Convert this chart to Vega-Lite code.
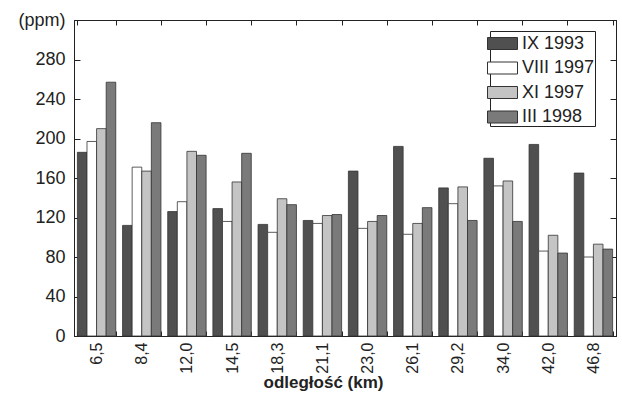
{
  "$schema": "https://vega.github.io/schema/vega-lite/v6.json",
  "width": 542,
  "height": 316,
  "autosize": {"type": "none"},
  "padding": {"left": 74, "top": 20, "right": 6, "bottom": 65},
  "background": "white",
  "config": {
    "view": {"stroke": "#222", "strokeWidth": 1},
    "font": "Liberation Sans",
    "axis": {"labelColor": "#222", "titleColor": "#222", "domainColor": "#222", "tickColor": "#222", "grid": false}
  },
  "data": {
    "values": [
      {"d": "6,5", "s": "IX 1993", "v": 186}, {"d": "6,5", "s": "VIII 1997", "v": 197}, {"d": "6,5", "s": "XI 1997", "v": 210}, {"d": "6,5", "s": "III 1998", "v": 257},
      {"d": "8,4", "s": "IX 1993", "v": 112}, {"d": "8,4", "s": "VIII 1997", "v": 171}, {"d": "8,4", "s": "XI 1997", "v": 167}, {"d": "8,4", "s": "III 1998", "v": 216},
      {"d": "12,0", "s": "IX 1993", "v": 126}, {"d": "12,0", "s": "VIII 1997", "v": 136}, {"d": "12,0", "s": "XI 1997", "v": 187}, {"d": "12,0", "s": "III 1998", "v": 183},
      {"d": "14,5", "s": "IX 1993", "v": 129}, {"d": "14,5", "s": "VIII 1997", "v": 116}, {"d": "14,5", "s": "XI 1997", "v": 156}, {"d": "14,5", "s": "III 1998", "v": 185},
      {"d": "18,3", "s": "IX 1993", "v": 113}, {"d": "18,3", "s": "VIII 1997", "v": 105}, {"d": "18,3", "s": "XI 1997", "v": 139}, {"d": "18,3", "s": "III 1998", "v": 133},
      {"d": "21,1", "s": "IX 1993", "v": 117}, {"d": "21,1", "s": "VIII 1997", "v": 114}, {"d": "21,1", "s": "XI 1997", "v": 122}, {"d": "21,1", "s": "III 1998", "v": 123},
      {"d": "23,0", "s": "IX 1993", "v": 167}, {"d": "23,0", "s": "VIII 1997", "v": 109}, {"d": "23,0", "s": "XI 1997", "v": 116}, {"d": "23,0", "s": "III 1998", "v": 122},
      {"d": "26,1", "s": "IX 1993", "v": 192}, {"d": "26,1", "s": "VIII 1997", "v": 103}, {"d": "26,1", "s": "XI 1997", "v": 114}, {"d": "26,1", "s": "III 1998", "v": 130},
      {"d": "29,2", "s": "IX 1993", "v": 150}, {"d": "29,2", "s": "VIII 1997", "v": 134}, {"d": "29,2", "s": "XI 1997", "v": 151}, {"d": "29,2", "s": "III 1998", "v": 117},
      {"d": "34,0", "s": "IX 1993", "v": 180}, {"d": "34,0", "s": "VIII 1997", "v": 152}, {"d": "34,0", "s": "XI 1997", "v": 157}, {"d": "34,0", "s": "III 1998", "v": 116},
      {"d": "42,0", "s": "IX 1993", "v": 194}, {"d": "42,0", "s": "VIII 1997", "v": 86}, {"d": "42,0", "s": "XI 1997", "v": 102}, {"d": "42,0", "s": "III 1998", "v": 84},
      {"d": "46,8", "s": "IX 1993", "v": 165}, {"d": "46,8", "s": "VIII 1997", "v": 80}, {"d": "46,8", "s": "XI 1997", "v": 93}, {"d": "46,8", "s": "III 1998", "v": 88}
    ]
  },
  "layer": [
    {
      "mark": {"type": "bar", "stroke": "#333", "strokeWidth": 0.8},
      "encoding": {
        "x": {
          "field": "d", "type": "nominal", "sort": null,
          "scale": {"paddingInner": 0.15, "paddingOuter": 0.075},
          "axis": {
            "orient": "bottom", "labelAngle": 270, "labelFontSize": 16, "tickBand": "extent",
            "tickSize": -5, "labelPadding": 11,
            "title": "odległość (km)", "titleFontSize": 17, "titleFontWeight": "bold",
            "titleX": 249, "titleY": 51, "titleBaseline": "alphabetic", "titleAlign": "center"
          }
        },
        "xOffset": {
          "field": "s", "type": "nominal",
          "sort": ["IX 1993", "VIII 1997", "XI 1997", "III 1998"],
          "scale": {"paddingInner": 0, "paddingOuter": 0}
        },
        "y": {
          "field": "v", "type": "quantitative",
          "scale": {"domain": [0, 320], "nice": false},
          "axis": {
            "orient": "left", "values": [0, 40, 80, 120, 160, 200, 240, 280, 320],
            "labelExpr": "datum.value == 320 ? '(ppm)' : datum.label",
            "labelFontSize": 18, "tickSize": -6, "labelPadding": 15, "title": null
          }
        },
        "color": {
          "field": "s", "type": "nominal",
          "scale": {"domain": ["IX 1993", "VIII 1997", "XI 1997", "III 1998"], "range": ["#505050", "#ffffff", "#c4c4c4", "#7a7a7a"]},
          "legend": {
            "orient": "none", "legendX": 416, "legendY": 11, "title": null,
            "strokeColor": "#222", "padding": {"left": 14, "right": 5, "top": 12, "bottom": 10}, "labelFontSize": 18, "labelColor": "#222",
            "symbolType": "M-1.25,-0.5H1.25V0.5H-1.25Z", "symbolSize": 576,
            "symbolStrokeColor": "#333", "symbolStrokeWidth": 1, "symbolOpacity": 1,
            "rowPadding": 2.5, "labelOffset": 7
          }
        }
      }
    },
    {
      "mark": {"type": "point", "opacity": 0},
      "encoding": {
        "x": {
          "field": "d", "type": "nominal", "sort": null,
          "axis": {"orient": "top", "labels": false, "tickBand": "extent", "tickSize": -5, "title": null}
        },
        "y": {
          "field": "v", "type": "quantitative",
          "axis": {"orient": "right", "labels": false, "values": [0, 40, 80, 120, 160, 200, 240, 280, 320], "tickSize": -6, "title": null}
        }
      }
    }
  ],
  "resolve": {"axis": {"x": "independent", "y": "independent"}}
}
